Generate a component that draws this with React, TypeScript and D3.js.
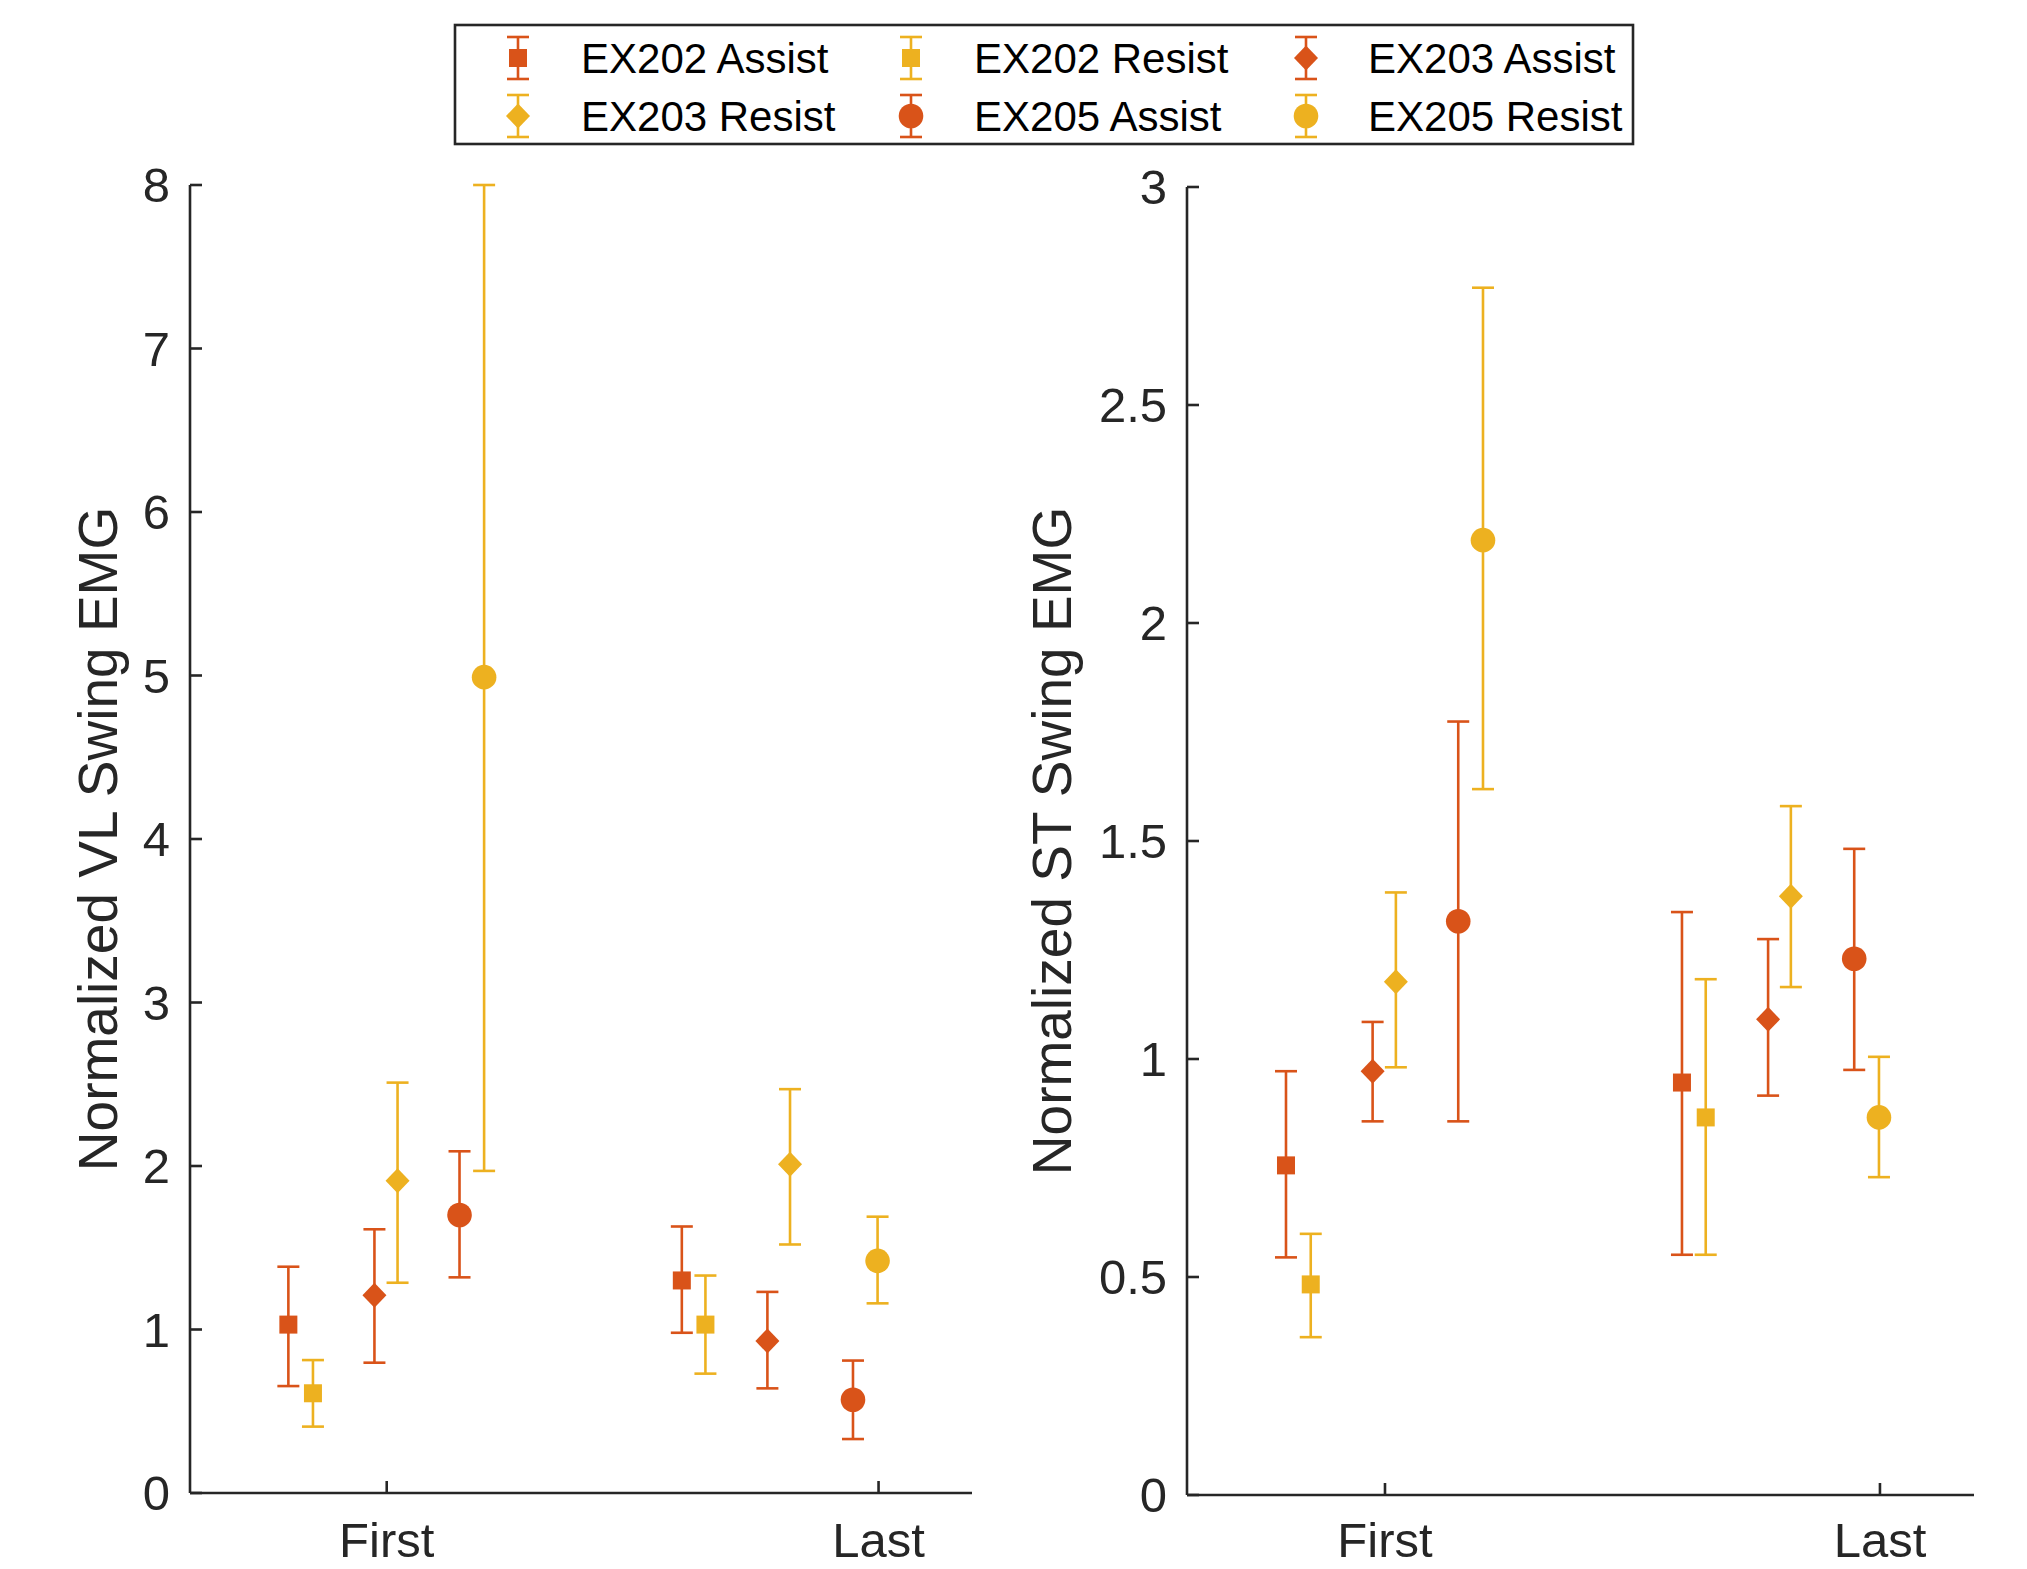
import React from "react";
import * as d3 from "d3";

// ---------- data ----------
const seriesNames = ["EX202 Assist", "EX202 Resist", "EX203 Assist", "EX203 Resist", "EX205 Assist", "EX205 Resist"];
const seriesShapes = ["square", "square", "diamond", "diamond", "circle", "circle"];
const seriesColors = ["#D95319", "#EDB120", "#D95319", "#EDB120", "#D95319", "#EDB120"];

const categories = ["First", "Last"];
const categoryX = [1, 2];
// x positions (in axis units) of each series within each session group
const xFirst = [0.8, 0.85, 0.975, 1.022, 1.148, 1.198];
const xLast = [1.6, 1.648, 1.774, 1.82, 1.948, 1.998];

// Left: Normalized VL Swing EMG
const vlFirstMean = [1.03, 0.61, 1.21, 1.91, 1.70, 4.99];
const vlFirstLower = [0.654, 0.406, 0.797, 1.286, 1.319, 1.97];
const vlFirstUpper = [1.384, 0.813, 1.613, 2.51, 2.09, 8.0];
const vlLastMean = [1.30, 1.03, 0.93, 2.01, 0.57, 1.42];
const vlLastLower = [0.98, 0.73, 0.64, 1.52, 0.33, 1.16];
const vlLastUpper = [1.63, 1.33, 1.23, 2.47, 0.81, 1.69];

// Right: Normalized ST Swing EMG
const stFirstMean = [0.756, 0.483, 0.972, 1.177, 1.316, 2.19];
const stFirstLower = [0.545, 0.362, 0.857, 0.981, 0.857, 1.619];
const stFirstUpper = [0.972, 0.599, 1.085, 1.382, 1.774, 2.769];
const stLastMean = [0.946, 0.866, 1.091, 1.373, 1.230, 0.866];
const stLastLower = [0.551, 0.551, 0.916, 1.165, 0.975, 0.729];
const stLastUpper = [1.337, 1.183, 1.275, 1.580, 1.482, 1.005];

const vlTicks = [0, 1, 2, 3, 4, 5, 6, 7, 8];
const stTicks = [0, 0.5, 1, 1.5, 2, 2.5, 3];

// ---------- style ----------
const W = 2027;
const H = 1569;
const AX = "#262626";
const FONT = "'Liberation Sans', Arial, Helvetica, sans-serif";
const TICK_FS = 49;
const LABEL_FS = 55;
const LEGEND_FS = 42;
const CAP = 11;
const LW = 2.6;

function Marker({ shape, cx, cy, color }: { shape: string; cx: number; cy: number; color: string }) {
  if (shape === "square") {
    return <rect x={cx - 9} y={cy - 9} width={18} height={18} fill={color} />;
  }
  if (shape === "diamond") {
    const p = d3.path();
    p.moveTo(cx, cy - 12.5);
    p.lineTo(cx + 12, cy);
    p.lineTo(cx, cy + 12.5);
    p.lineTo(cx - 12, cy);
    p.closePath();
    return <path d={p.toString()} fill={color} />;
  }
  return <circle cx={cx} cy={cy} r={12.3} fill={color} />;
}

function ErrBar({ x, yTop, yBot, color }: { x: number; yTop: number; yBot: number; color: string }) {
  return (
    <g stroke={color} strokeWidth={LW} fill="none">
      <line x1={x} x2={x} y1={yTop} y2={yBot} />
      <line x1={x - CAP} x2={x + CAP} y1={yTop} y2={yTop} />
      <line x1={x - CAP} x2={x + CAP} y1={yBot} y2={yBot} />
    </g>
  );
}

type PanelProps = {
  left: number;
  right: number;
  top: number;
  bottom: number;
  yMax: number;
  ticks: number[];
  label: string;
  labelX: number;
  groups: { xs: number[]; mean: number[]; lower: number[]; upper: number[] }[];
};

function Panel(p: PanelProps) {
  const x = d3.scaleLinear().domain([0.6, 2.19]).range([p.left, p.right]);
  const y = d3.scaleLinear().domain([0, p.yMax]).range([p.bottom, p.top]);
  const fmt = (v: number) => String(v);
  return (
    <g>
      {/* data */}
      {p.groups.map((g, gi) =>
        seriesNames.map((_, si) => {
          const cx = x(g.xs[si]);
          return (
            <g key={`${gi}-${si}`}>
              <ErrBar x={cx} yTop={y(g.upper[si])} yBot={y(g.lower[si])} color={seriesColors[si]} />
              <Marker shape={seriesShapes[si]} cx={cx} cy={y(g.mean[si])} color={seriesColors[si]} />
            </g>
          );
        })
      )}
      {/* axes */}
      <g stroke={AX} strokeWidth={LW} fill="none">
        <line x1={p.left} x2={p.left} y1={p.top} y2={p.bottom} />
        <line x1={p.left} x2={p.right} y1={p.bottom} y2={p.bottom} />
        {p.ticks.map((t) => (
          <line key={t} x1={p.left} x2={p.left + 12} y1={y(t)} y2={y(t)} />
        ))}
        {categoryX.map((c) => (
          <line key={c} x1={x(c)} x2={x(c)} y1={p.bottom} y2={p.bottom - 12} />
        ))}
      </g>
      <g fill={AX} fontFamily={FONT} fontSize={TICK_FS}>
        {p.ticks.map((t) => (
          <text key={t} x={p.left - 20} y={y(t) + 17} textAnchor="end">
            {fmt(t)}
          </text>
        ))}
        {categories.map((c, i) => (
          <text key={c} x={x(categoryX[i])} y={1557} textAnchor="middle">
            {c}
          </text>
        ))}
      </g>
      <text
        transform={`translate(${p.labelX},${(p.top + p.bottom) / 2}) rotate(-90)`}
        textAnchor="middle"
        fill={AX}
        fontFamily={FONT}
        fontSize={LABEL_FS}
      >
        {p.label}
      </text>
    </g>
  );
}

function Legend() {
  const colMarkerX = [518, 911, 1306];
  const colTextX = [581, 974, 1368];
  const rowY = [58, 116];
  return (
    <g>
      <rect x={455} y={25} width={1178} height={119} fill="#fff" stroke={AX} strokeWidth={LW} />
      {seriesNames.map((name, i) => {
        const col = i % 3;
        const row = Math.floor(i / 3);
        const cx = colMarkerX[col];
        const cy = rowY[row];
        return (
          <g key={name}>
            <ErrBar x={cx} yTop={cy - 21} yBot={cy + 21} color={seriesColors[i]} />
            <Marker shape={seriesShapes[i]} cx={cx} cy={cy} color={seriesColors[i]} />
            <text x={colTextX[col]} y={cy + 15} fill="#000" fontFamily={FONT} fontSize={LEGEND_FS}>
              {name}
            </text>
          </g>
        );
      })}
    </g>
  );
}

export default function App() {
  return (
    <svg
      width={W}
      height={H}
      viewBox={`0 0 ${W} ${H}`}
      style={{ position: "absolute", left: 0, top: 0, background: "#fff" }}
    >
      <rect x={0} y={0} width={W} height={H} fill="#fff" />
      <Panel
        left={190}
        right={972}
        top={185}
        bottom={1493}
        yMax={8}
        ticks={vlTicks}
        label="Normalized VL Swing EMG"
        labelX={117}
        groups={[
          { xs: xFirst, mean: vlFirstMean, lower: vlFirstLower, upper: vlFirstUpper },
          { xs: xLast, mean: vlLastMean, lower: vlLastLower, upper: vlLastUpper },
        ]}
      />
      <Panel
        left={1187}
        right={1974}
        top={187}
        bottom={1495}
        yMax={3}
        ticks={stTicks}
        label="Normalized ST Swing EMG"
        labelX={1071}
        groups={[
          { xs: xFirst, mean: stFirstMean, lower: stFirstLower, upper: stFirstUpper },
          { xs: xLast, mean: stLastMean, lower: stLastLower, upper: stLastUpper },
        ]}
      />
      <Legend />
    </svg>
  );
}
